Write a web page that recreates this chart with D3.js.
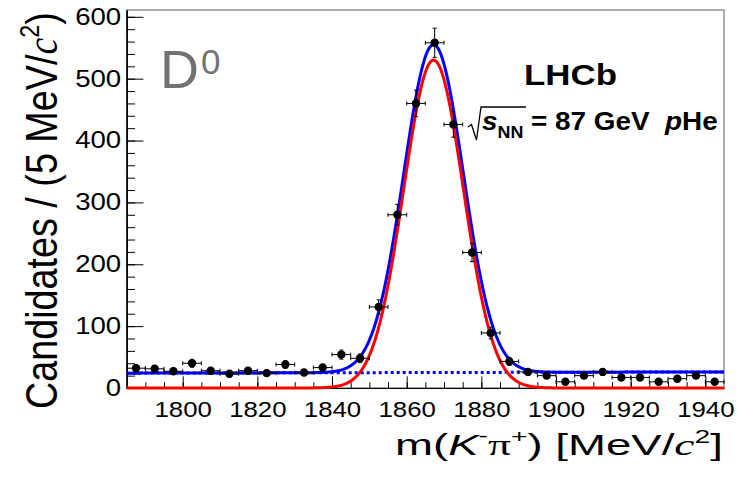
<!DOCTYPE html>
<html><head><meta charset="utf-8">
<script src="https://cdn.jsdelivr.net/npm/d3@7"></script>
<style>body{margin:0;background:#fff}svg{display:block}text{white-space:pre}</style>
</head><body><svg id="chart" width="738" height="483"></svg>
<script>
// ---- data ----
const massBins = [1787.5,1792.5,1797.5,1802.5,1807.5,1812.5,1817.5,1822.5,1827.5,1832.5,1837.5,
  1842.5,1847.5,1852.5,1857.5,1862.5,1867.5,1872.5,1877.5,1882.5,1887.5,1892.5,1897.5,1902.5,
  1907.5,1912.5,1917.5,1922.5,1927.5,1932.5,1937.5,1942.5];
const candidates = [32,31,27,40,28,23,28,24,38,25,33,
  54,48,131,280,460,558,426,219,89,43,26,20,10,
  20,26,17,17,10,15,20,10];
const binWidth = 5;
const xTickLabels = [1800,1820,1840,1860,1880,1900,1920,1940];
const yTickLabels = [0,100,200,300,400,500,600];
const massRange = [1785,1945];
const countRange = [0,611];
// fit parameters
const signalMean = 1867.2;
const signalSigma = 8.0;
const signalPeak = 530;
const backgroundEnds = [24,26];

const svg = d3.select('#chart');
const L = 126.7, R = 724, T = 10, B = 388;
const x = d3.scaleLinear().domain(massRange).range([L,R]);
const y = d3.scaleLinear().domain(countRange).range([B,T]);
const FONT = "'Liberation Sans', Arial, Helvetica, sans-serif";
const SERIF = "'Liberation Serif', 'Times New Roman', serif";
const SX = 1.2;

// frame
svg.append('rect').attr('x',L).attr('y',T).attr('width',R-L).attr('height',B-T)
  .attr('fill','none').attr('stroke','#777').attr('stroke-width',1.2);

// axes
const fmt = d3.format('d');
const yAxisMinor = d3.axisLeft(y).tickValues(d3.range(0,601,20)).tickSize(-8.3).tickFormat('').tickSizeOuter(0);
const yAxis = d3.axisLeft(y).tickValues(yTickLabels).tickFormat(fmt).tickSize(-16.7).tickPadding(4.6).tickSizeOuter(0);
const xAxisMinor = d3.axisBottom(x).tickValues(d3.range(1790,1945,5)).tickSize(-5.8).tickFormat('').tickSizeOuter(0);
const xAxis = d3.axisBottom(x).tickValues(xTickLabels).tickFormat(fmt).tickSize(-11.7).tickPadding(13.6).tickSizeOuter(0);

function styleAxis(fs){
  return g => {
    g.selectAll('path.domain').attr('stroke','#000').attr('stroke-width',1.2);
    g.selectAll('line').attr('stroke','#000').attr('stroke-width',1);
    g.selectAll('text').attr('font-family',FONT).attr('font-size',fs).attr('fill','#000')
      .attr('transform',`scale(${SX},1)`);
  };
}
svg.append('g').attr('transform',`translate(${L},0)`).call(yAxisMinor).call(styleAxis(23));
svg.append('g').attr('transform',`translate(${L},0)`).call(yAxis).call(styleAxis(23));
svg.append('g').attr('transform',`translate(0,${B})`).call(xAxisMinor).call(styleAxis(21.5));
svg.append('g').attr('transform',`translate(0,${B})`).call(xAxis).call(styleAxis(21.5));

// fit curves
const grid = d3.range(massRange[0], massRange[1]+0.001, 0.25);
const bkg = m => backgroundEnds[0] + (backgroundEnds[1]-backgroundEnds[0])*(m-massRange[0])/(massRange[1]-massRange[0]);
const sig = m => signalPeak*Math.exp(-0.5*Math.pow((m-signalMean)/signalSigma,2));
const line = d3.line().x(d=>x(d[0])).y(d=>y(d[1]));
svg.append('path').datum(grid.map(m=>[m,bkg(m)])).attr('d',line)
  .attr('fill','none').attr('stroke','#0000ff').attr('stroke-width',3).attr('stroke-dasharray','3,3');
svg.append('path').datum(grid.map(m=>[m,bkg(m)+sig(m)])).attr('d',line)
  .attr('fill','none').attr('stroke','#0000ff').attr('stroke-width',3);
svg.append('path').datum(grid.map(m=>[m,sig(m)])).attr('d',line)
  .attr('fill','none').attr('stroke','#ff0000').attr('stroke-width',3);

// data points
const pts = svg.append('g');
massBins.forEach((m,i)=>{
  const n = candidates[i], e = Math.sqrt(n);
  const cx = x(m), cy = y(n);
  const g = pts.append('g').attr('stroke','#000').attr('stroke-width',1);
  g.append('line').attr('x1',cx).attr('x2',cx).attr('y1',y(n-e)).attr('y2',y(n+e));
  g.append('line').attr('x1',cx-2).attr('x2',cx+2).attr('y1',y(n-e)).attr('y2',y(n-e));
  g.append('line').attr('x1',cx-2).attr('x2',cx+2).attr('y1',y(n+e)).attr('y2',y(n+e));
  g.append('line').attr('x1',x(m-binWidth/2)).attr('x2',x(m+binWidth/2)).attr('y1',cy).attr('y2',cy);
  g.append('line').attr('x1',x(m-binWidth/2)).attr('x2',x(m-binWidth/2)).attr('y1',cy-2).attr('y2',cy+2);
  g.append('line').attr('x1',x(m+binWidth/2)).attr('x2',x(m+binWidth/2)).attr('y1',cy-2).attr('y2',cy+2);
  pts.append('circle').attr('cx',cx).attr('cy',cy).attr('r',4.2).attr('fill','#000');
});

// helper: fit a text horizontally between x0 and x1 at baseline yb
function fitH(t, x0, x1, yb){
  const w = t.node().getBBox().width;
  t.attr('transform',`translate(${x0},${yb}) scale(${(x1-x0)/w},1)`);
}

// x title
const xt = svg.append('text').attr('font-family',FONT).attr('font-size',29).attr('fill','#000');
xt.append('tspan').text('m(');
xt.append('tspan').attr('font-style','italic').text('K');
xt.append('tspan').attr('font-size',18).attr('dy',-13).text('-');
xt.append('tspan').attr('font-family',SERIF).attr('dy',13).text('π');
xt.append('tspan').attr('font-size',18).attr('dy',-12).text('+');
xt.append('tspan').attr('dy',12).text(') [MeV/');
xt.append('tspan').attr('font-family',SERIF).attr('font-style','italic').text('c');
xt.append('tspan').attr('font-size',18).attr('dy',-12).text('2');
xt.append('tspan').attr('dy',12).text(']');
fitH(xt, 395, 723, 455);

// y title
const yt = svg.append('text').attr('font-family',FONT).attr('font-size',37).attr('fill','#000');
yt.append('tspan').text('Candidates / (5 MeV/');
yt.append('tspan').attr('font-family',SERIF).attr('font-style','italic').text('c');
yt.append('tspan').attr('font-size',23).attr('dy',-15).text('2');
yt.append('tspan').attr('dy',15).text(')');
{
  const w = yt.node().getBBox().width;
  yt.attr('transform',`translate(57,409) rotate(-90) scale(${397/w},${SX})`);
}

// D0 label
svg.append('text').attr('x',160).attr('y',88).attr('font-family',FONT).attr('font-size',54)
  .attr('fill','#727272').text('D');
svg.append('text').attr('x',201).attr('y',74).attr('font-family',FONT).attr('font-size',35)
  .attr('fill','#727272').text('0');

// LHCb
const lh = svg.append('text').attr('font-family',FONT).attr('font-size',29).attr('font-weight','bold').text('LHCb');
fitH(lh, 524, 617, 85);

// sqrt(s_NN) = 87 GeV pHe
svg.append('path').attr('d','M468,127 L471.5,124.5 L476.5,140 L481,107 L526,107')
  .attr('fill','none').attr('stroke','#000').attr('stroke-width',1.3);
const en = svg.append('text').attr('font-family',FONT).attr('font-size',25).attr('font-weight','bold');
en.append('tspan').attr('font-style','italic').text('s');
en.append('tspan').attr('font-size',16).attr('dy',8).text('NN');
en.append('tspan').attr('dy',-8).text(' = 87 GeV  ');
en.append('tspan').attr('font-style','italic').text('p');
en.append('tspan').text('He');
fitH(en, 482, 718, 130);
</script></body></html>
